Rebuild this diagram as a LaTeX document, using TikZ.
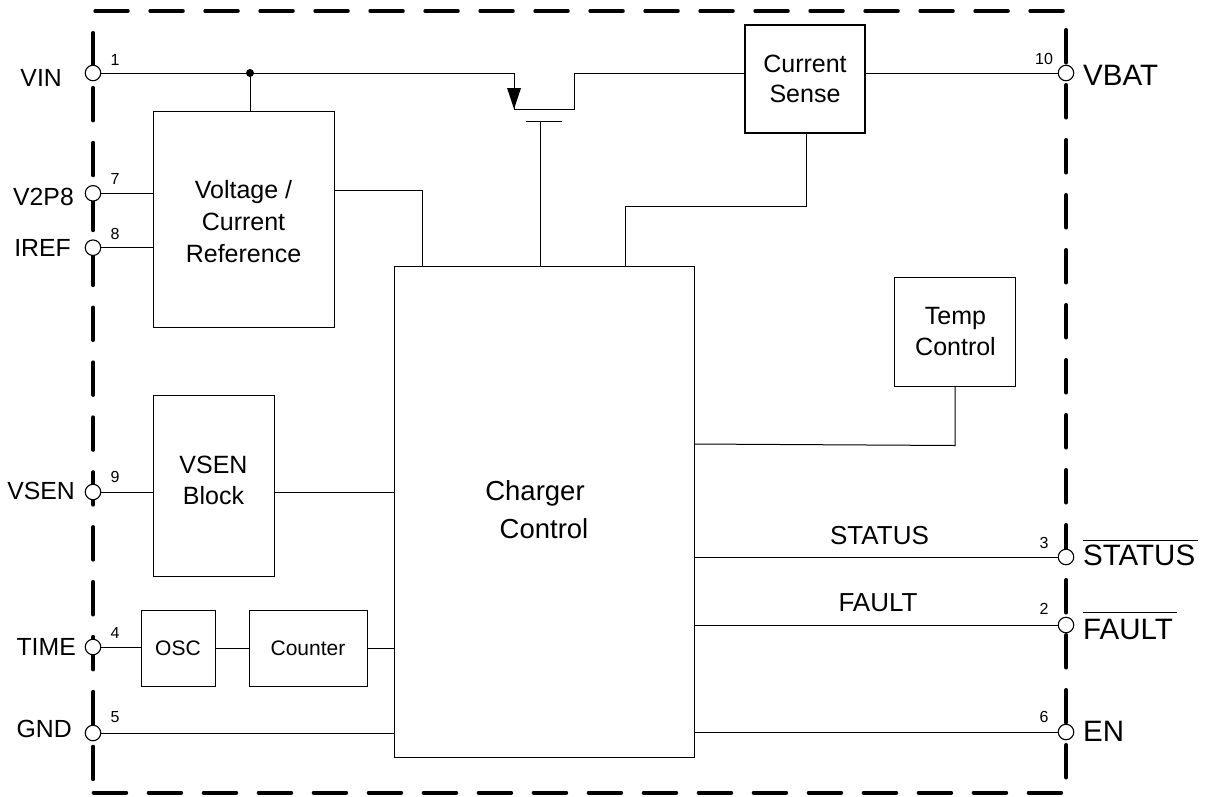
\documentclass[tikz,border=0pt]{standalone}
\usepackage{fontspec}
\setmainfont{Liberation Sans}
\newcommand{\fs}[2]{\fontsize{#1}{#2}\selectfont}
\tikzset{
  x=1pt,y=-1pt,
  blockbox/.style={draw=black,line width=1pt,fill=none,inner sep=0pt,align=center,font=\fs{25}{30.5}},
  pin/.style={circle,draw=black,fill=white,line width=1.1pt,minimum size=15.5pt,inner sep=0pt},
  wire/.style={draw=black,line width=1pt},
  border/.style={line width=4pt,line cap=round},
  pinname/.style={font=\fs{24.8}{30},inner sep=0pt},
  bigname/.style={font=\fs{29.5}{30},inner sep=0pt},
  pinnum/.style={font=\fs{16}{17},inner sep=0pt},
  signame/.style={font=\fs{26}{30},inner sep=0pt}
}
\begin{document}
\begin{tikzpicture}
\useasboundingbox (0,0) rectangle (1210,796);
% dashed package border
\foreach \k in {0,...,17}{
  \draw[border] (95.3+55*\k,11) -- (127.8+55*\k,11);
  \draw[border] (93.7+55*\k,792.7) -- (126.2+55*\k,792.7);
}
\foreach \k in {0,...,13}{
  \draw[border] (93.3,33+54.9*\k) -- (93.3,65.5+54.9*\k);
  \draw[border] (1066.3,30+55*\k) -- (1066.3,62.5+55*\k);
}
% blocks
\node[blockbox,minimum width=120pt,minimum height=108pt,line width=1.5pt] (cs) at (805,79) {Current\\Sense};
\node[blockbox,minimum width=181pt,minimum height=216pt] (vref) at (243.5,219) {\rule{0pt}{24pt}Voltage /\\[1.5pt]Current\\[1.5pt]Reference};
\node[blockbox,minimum width=121pt,minimum height=181pt] (vsen) at (213.5,485.5) {VSEN\\Block\\[-20.5pt]\mbox{}};
\node[blockbox,minimum width=74pt,minimum height=76pt,font=\fs{21}{25}] (osc) at (178,648) {OSC};
\node[blockbox,minimum width=118pt,minimum height=76pt,font=\fs{21}{25}] (cnt) at (308,648) {Counter};
\node[blockbox,minimum width=300pt,minimum height=491pt,font=\fs{27.5}{38}] (chg) at (544,511.5) {Charger\hspace*{18pt}\\Control\hspace*{4pt}\\[-34pt]\mbox{}};
\node[blockbox,minimum width=121pt,minimum height=109pt] (temp) at (954.5,331.5) {\hspace*{2pt}Temp\\\hspace*{2pt}Control};
% named points
\coordinate (jn) at (250,73);
\coordinate (src) at (514,109);
\coordinate (drn) at (574,109);
\coordinate (gl) at (526,121);
\coordinate (gr) at (562,121);
\coordinate (gs) at (540,121);
\coordinate (al) at (507,88);
\coordinate (ar) at (521,88);
% pin anchors
\coordinate (c1) at (93,73);
\coordinate (c7) at (93,193.3);
\coordinate (c8) at (93,247.7);
\coordinate (c9) at (93,492);
\coordinate (c4) at (93,647);
\coordinate (c5) at (93,733);
\coordinate (c10) at (1066,73);
\coordinate (c3) at (1066,557);
\coordinate (c2) at (1066,625);
\coordinate (c6) at (1066,732);
% connectors
\draw[wire] (c1) -- (514,73) -- (src) -- (drn) -- (574,73) -- (cs.west |- c1);
\draw[wire] (cs.east |- c10) -- (c10);
\draw[wire] (jn) -- (jn |- vref.north);
\draw[wire] (gl) -- (gr);
\draw[wire] (gs) -- (gs |- chg.north);
\draw[wire] (vref.east |- 0,190) -- (422,190) -- (422,0 |- chg.north);
\draw[wire] (806,0 |- cs.south) -- (806,206) -- (625,206) -- (625,0 |- chg.north);
\draw[wire] (955,0 |- temp.south) -- (955,445.5) -- (chg.east |- 0,444);
\draw[wire] (c7) -- (vref.west |- c7);
\draw[wire] (c8) -- (vref.west |- c8);
\draw[wire] (c9) -- (vsen.west |- c9);
\draw[wire] (vsen.east |- c9) -- (chg.west |- c9);
\draw[wire] (c4) -- (osc.west |- c4);
\draw[wire] (osc.east |- 0,648) -- (cnt.west |- 0,648);
\draw[wire] (cnt.east |- 0,648) -- (chg.west |- 0,648);
\draw[wire] (c5) -- (chg.west |- c5);
\draw[wire] (chg.east |- c3) -- (c3);
\draw[wire] (chg.east |- c2) -- (c2);
\draw[wire] (chg.east |- c6) -- (c6);
\fill (jn) circle (4);
\fill (src) -- (al) -- (ar) -- cycle;
% pins on top of their wires
\node[pin] (p1) at (c1) {};
\node[pin] (p7) at (c7) {};
\node[pin] (p8) at (c8) {};
\node[pin] (p9) at (c9) {};
\node[pin] (p4) at (c4) {};
\node[pin] (p5) at (c5) {};
\node[pin] (p10) at (c10) {};
\node[pin] (p3) at (c3) {};
\node[pin] (p2) at (c2) {};
\node[pin] (p6) at (c6) {};
% pin names
\node[pinname,anchor=east] (n1) at (62,78) {VIN};
\node[pinname,anchor=east] (n7) at (74,196.5) {V2P8};
\node[pinname,anchor=east] (n8) at (71,248) {IREF};
\node[pinname,anchor=east] (n9) at (75,491) {VSEN};
\node[pinname,anchor=east] (n4) at (76,647) {TIME};
\node[pinname,anchor=east] (n5) at (72,729) {GND};
\node[bigname,anchor=west] (n10) at (1083,75) {VBAT};
\node[bigname,anchor=west] (n3) at (1083,555.5) {STATUS};
\node[bigname,anchor=west] (n2) at (1083,629.5) {FAULT};
\node[bigname,anchor=west] (n6) at (1083,731.7) {EN};
\draw[line width=1.5pt] (n3.west |- 0,540.7) -- (1198,540.7);
\draw[line width=1.5pt] (n2.west |- 0,612.7) -- (1177,612.7);
% pin numbers
\node[pinnum] (t1) at (115,60) {1};
\node[pinnum] (t7) at (115,179) {7};
\node[pinnum] (t8) at (115,234) {8};
\node[pinnum] (t9) at (115,477) {9};
\node[pinnum] (t4) at (115,633) {4};
\node[pinnum] (t5) at (115,717) {5};
\node[pinnum] (t10) at (1044,59) {10};
\node[pinnum] (t3) at (1044,543) {3};
\node[pinnum] (t2) at (1044,609) {2};
\node[pinnum] (t6) at (1044,717) {6};
% signal names
\node[signame] (ss) at (879.5,536) {STATUS};
\node[signame] (sf) at (878,603) {FAULT};
\end{tikzpicture}
\end{document}
